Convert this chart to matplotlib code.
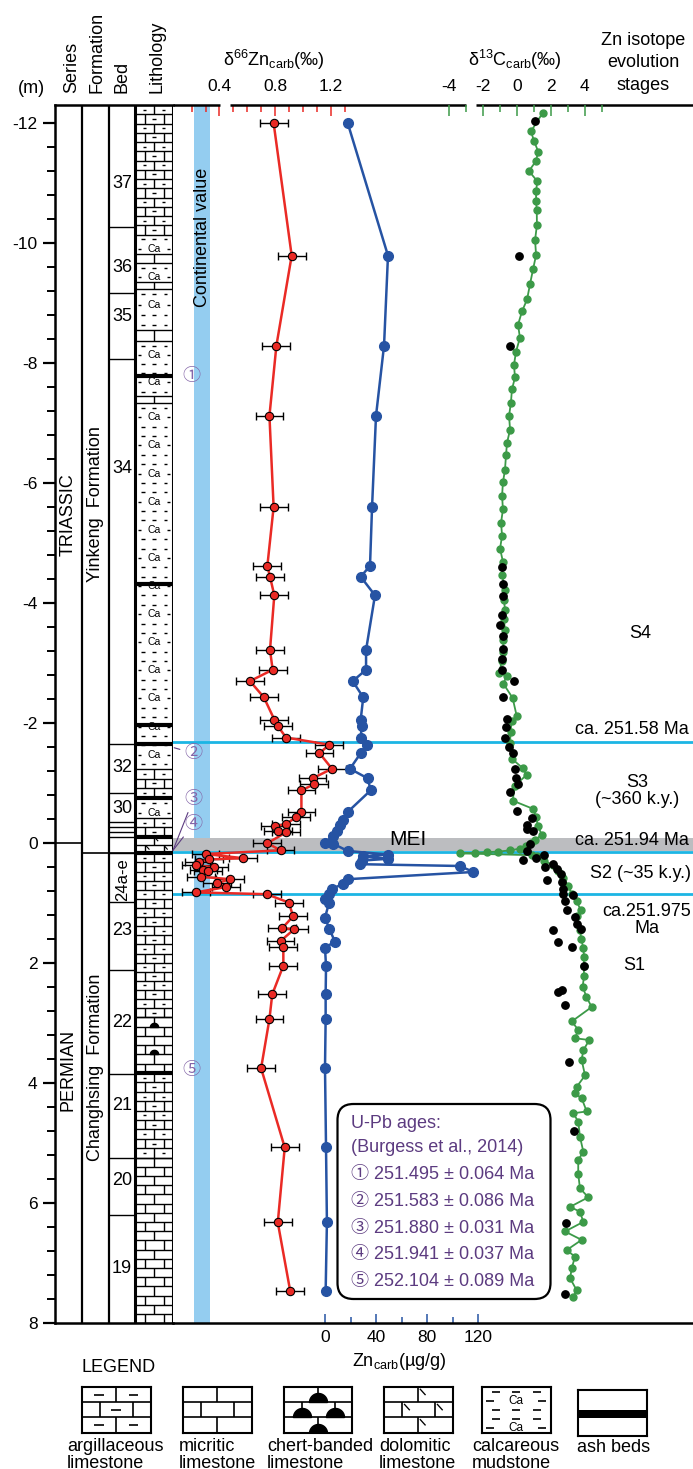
import numpy as np
import matplotlib.pyplot as plt
from matplotlib.patches import FancyBboxPatch
from matplotlib.path import Path
from matplotlib.ticker import MultipleLocator

plt.rcParams['font.family'] = ['Liberation Sans', 'Noto Sans CJK JP', 'DejaVu Sans']
plt.rcParams['axes.unicode_minus'] = False
plt.rcParams['mathtext.fontset'] = 'custom'
plt.rcParams['mathtext.rm'] = 'Liberation Sans'
plt.rcParams['mathtext.default'] = 'regular'

# ---------------- data (depth in m, negative = above the P/T boundary) ----------------
zn_depth = [-12.0, -9.79, -8.29, -7.12, -5.6, -4.62, -4.44, -4.13, -3.22, -2.89, -2.70, -2.43,
            -2.06, -1.95, -1.76, -1.64, -1.50, -1.24, -1.08, -0.98, -0.88, -0.52, -0.43, -0.32,
            -0.28, -0.21, -0.18, 0.0, 0.12, 0.18, 0.25, 0.27, 0.32, 0.37, 0.40, 0.44, 0.47, 0.56,
            0.60, 0.67, 0.73, 0.82, 0.85, 0.99, 1.22, 1.42, 1.43, 1.63, 1.73, 2.04, 2.52, 2.93,
            3.75, 5.07, 6.32, 7.47]
zn_d66 = [0.79, 0.92, 0.81, 0.76, 0.79, 0.745, 0.764, 0.795, 0.764, 0.783, 0.62, 0.72,
          0.795, 0.82, 0.88, 1.19, 1.12, 1.21, 1.07, 1.08, 0.99, 0.99, 0.95, 0.88,
          0.80, 0.82, 0.88, 0.745, 0.84, 0.30, 0.57, 0.325, 0.25, 0.23, 0.36, 0.285, 0.32, 0.27,
          0.476, 0.38, 0.45, 0.23, 0.74, 0.90, 0.93, 0.85, 0.94, 0.84, 0.86, 0.86, 0.78, 0.76,
          0.70, 0.87, 0.82, 0.91]
zn_err = 0.1

conc_depth = [-12.0, -9.79, -8.29, -7.12, -5.6, -4.62, -4.44, -4.13, -3.22, -2.89, -2.70, -2.43,
              -2.06, -1.95, -1.76, -1.64, -1.50, -1.24, -1.08, -0.88, -0.52, -0.39, -0.30, -0.21,
              -0.12, 0.0, 0.01, 0.13, 0.19, 0.22, 0.26, 0.29, 0.35, 0.38, 0.48, 0.60, 0.68, 0.76,
              0.84, 0.93, 1.0, 1.24, 1.43, 1.64, 1.74, 2.05, 2.52, 2.93, 3.75, 5.07, 6.32, 7.47]
conc_zn = [17.8, 49.4, 46.3, 40.0, 36.9, 35.3, 28.0, 39.2, 32.2, 32.2, 21.7, 30.0,
           28.0, 28.8, 28.0, 32.7, 28.0, 19.6, 33.5, 35.8, 17.8, 14.4, 12.0, 9.2,
           6.0, 0.0, 6.5, 17.8, 49.7, 30.0, 49.7, 28.8, 27.5, 105.9, 116.3, 17.8, 14.4, 5.2,
           3.4, 0.0, 3.1, 0.0, 3.4, 7.8, 0.0, 0.8, 0.5, 0.5, 0.0, 0.8, 1.5, 0.5]

c13_depth = [-12.17, -11.86, -11.70, -11.52, -11.36, -11.20, -11.03, -10.86, -10.70, -10.55,
             -10.30, -10.05, -9.80, -9.56, -9.31, -9.06, -8.86, -8.64, -8.42, -8.19,
             -7.97, -7.76, -7.56, -7.34, -7.12, -6.89, -6.67, -6.46, -6.22, -6.01,
             -5.79, -5.56, -5.34, -5.12, -4.91, -4.69, -4.47, -4.22, -4.06, -3.89,
             -3.73, -3.55, -3.38, -3.19, -3.03, -2.84, -2.78, -2.66, -2.42, -2.12,
             -2.04, -1.86, -1.67, -1.41, -1.25, -1.14, -0.96, -0.71, -0.57, -0.43,
             -0.29, -0.14, -0.06, 0.0, 0.05, 0.09, 0.12, 0.14, 0.15, 0.16,
             0.17, 0.20, 0.22, 0.30, 0.36, 0.47, 0.58, 0.72, 0.85, 0.97,
             1.11, 1.22, 1.44, 1.60, 1.75, 1.89, 2.05, 2.22, 2.39, 2.56,
             2.73, 2.97, 3.11, 3.25, 3.28, 3.45, 3.61, 3.87, 4.06, 4.17,
             4.25, 4.47, 4.50, 4.64, 4.89, 5.14, 5.28, 5.51, 5.75, 5.90,
             6.06, 6.14, 6.31, 6.47, 6.61, 6.78, 6.89, 7.08, 7.25, 7.45, 7.56]
c13 = [1.53, 0.84, 1.02, 1.27, 1.12, 0.72, 1.21, 1.14, 1.14, 1.18,
       1.19, 1.08, 1.14, 0.96, 0.78, 0.61, 0.31, 0.08, 0.19, -0.04,
       -0.16, -0.10, -0.28, -0.34, -0.45, -0.39, -0.57, -0.63, -0.69, -0.81,
       -0.86, -0.81, -0.92, -0.86, -0.98, -0.81, -0.86, -0.69, -0.75, -0.69,
       -0.75, -0.69, -0.79, -0.79, -0.88, -1.02, -0.59, -0.79, -0.24, 0.0,
       -0.29, -0.36, -0.39, -0.29, 0.35, 0.59, -0.10, -0.24, 0.98, 1.14,
       1.25, 1.47, 1.10, 0.85, 0.55, 0.20, -0.40, -1.08, -1.76, -2.45,
       -3.34, 0.90, 1.18, 1.60, 2.15, 2.45, 2.75, 3.04, 3.25, 3.53,
       3.76, 3.53, 3.72, 3.80, 3.92, 3.96, 3.95, 3.96, 3.88, 4.10,
       4.41, 3.24, 3.62, 3.43, 4.27, 3.92, 3.82, 4.02, 3.53, 3.43,
       3.82, 4.12, 3.33, 3.62, 3.72, 3.92, 3.62, 3.62, 3.72, 4.21,
       3.14, 3.72, 3.92, 2.84, 3.82, 2.94, 3.43, 3.24, 3.14, 3.53, 3.33]

c13b_depth = [-12.03, -9.79, -8.29, -4.60, -4.32, -4.12, -3.80, -3.63, -3.45, -3.24, -3.07,
              -2.89, -2.71, -2.44, -2.07, -1.93, -1.76, -1.61, -1.50, -1.24, -1.09, -0.99,
              -0.86, -0.53, -0.42, -0.31, -0.24, -0.20, 0.01, 0.13, 0.19, 0.25, 0.28, 0.35,
              0.40, 0.43, 0.51, 0.61, 0.65, 0.76, 0.84, 0.86, 0.96, 1.11, 1.23, 1.34, 1.43,
              1.44, 1.65, 1.73, 2.05, 2.45, 2.48, 2.69, 3.65, 4.80, 6.33, 7.52]
c13b = [1.08, 0.14, -0.40, -0.85, -0.80, -0.82, -0.88, -0.98, -0.78, -0.82, -0.88,
        -0.88, -0.16, -0.78, -0.55, -0.63, -0.69, -0.43, -0.24, -0.10, -0.04, 0.10,
        -0.39, 0.0, 0.88, 0.59, 0.59, 0.94, 0.79, 0.63, 1.61, 1.14, 0.39, 2.16,
        1.67, 2.35, 2.59, 1.80, 2.65, 2.70, 2.75, 3.29, 2.84, 2.94, 3.43, 3.53, 3.76,
        2.16, 2.45, 3.24, 3.96, 2.65, 2.45, 2.84, 3.10, 3.37, 2.88, 2.84]

stage_bounds = [-1.68, 0.145, 0.845]
mei_zone = (-0.08, 0.125)
continental = (0.22, 0.335)

bed_bounds = [-10.26, -9.16, -8.07, -1.66, -0.84, -0.36, -0.27, -0.19, -0.11, 0.17,
              0.98, 2.11, 3.85, 5.24, 6.19]
bed_names = ['37', '36', '35', '34', '32', '30', '24a-e', '23', '22', '21', '20', '19']
bed_mid = [-11.0, -9.6, -8.78, -6.25, -1.26, -0.57, 0.6, 1.46, 2.98, 4.37, 5.62, 7.09]

lith_top = [-12.3, -10.14, -9.82, -9.67, -9.35, -9.23, -8.55, -8.36, -7.45, -7.33, -1.24,
            -0.75, -0.42, -0.11, 0.17, 2.90, 3.83, 5.24]
lith_bot = [-10.14, -9.82, -9.67, -9.35, -9.23, -8.55, -8.36, -7.45, -7.33, -1.24, -0.75,
            -0.42, -0.11, 0.17, 2.90, 3.83, 5.24, 8.0]
lith_kind = ['argill', 'mud', 'micrite', 'mud', 'micrite', 'mud', 'micrite', 'mud', 'micrite',
             'mud', 'argill', 'mud', 'argill', 'dolo', 'argill', 'chert', 'argill', 'micrite']
ash_beds = [-7.78, -4.32, -1.97, -1.66, -0.75, -0.11, 0.17, 3.83]

ages = ['① 251.495 ± 0.064 Ma', '② 251.583 ± 0.086 Ma', '③ 251.880 ± 0.031 Ma',
        '④ 251.941 ± 0.037 Ma', '⑤ 252.104 ± 0.089 Ma']

# ---------------- styling ----------------
RED, BLUE, GREEN = '#ea2a25', '#2653a3', '#3c9a48'
CYAN, BAND, GREY = '#1cb5e4', '#94cdf0', '#bcbdc0'
PURPLE, PURPLE2 = '#5c3b80', '#8466a8'
FS = 13

W, H = 693, 1469
fig = plt.figure(figsize=(W / 100, H / 100), dpi=100)


def rect(x0, y0, x1, y1):
    return [x0 / W, 1 - y1 / H, (x1 - x0) / W, (y1 - y0) / H]


# ---------------- stratigraphic columns ----------------
ax_col = fig.add_axes(rect(55, 105, 173, 1323.3))
ax_col.set_xlim(55, 173)
ax_col.set_ylim(8, -12.3)
ax_col.spines['right'].set_visible(False)
for s in ['left', 'top', 'bottom']:
    ax_col.spines[s].set_linewidth(1.8)
ax_col.set_xticks([])
ax_col.yaxis.set_major_locator(MultipleLocator(2))
ax_col.yaxis.set_minor_locator(MultipleLocator(0.4))
ax_col.tick_params(axis='y', which='major', length=8.5, width=1.6, labelsize=12.5, pad=4)
ax_col.tick_params(axis='y', which='minor', length=5.5, width=1.4)
for x in [82, 109]:
    ax_col.axvline(x, color='k', lw=1.6)
for x in [135, 173]:
    ax_col.axvline(x, color='k', lw=2.2)
ax_col.hlines(0, 55, 82, color='k', lw=1.2)
ax_col.hlines(0.17, 82, 135, color='k', lw=1.2)
ax_col.hlines(bed_bounds, 109, 135, color='k', lw=1.0)
for name, d in zip(bed_names, bed_mid):
    if name == '24a-e':
        ax_col.text(123, d, name, rotation=90, ha='center', va='center', fontsize=12)
    else:
        ax_col.text(122, d, name, ha='center', va='center', fontsize=FS)
ax_col.text(68.5, -5.47, 'TRIASSIC', rotation=90, ha='center', va='center', fontsize=FS)
ax_col.text(68.5, 3.78, 'PERMIAN', rotation=90, ha='center', va='center', fontsize=FS)
ax_col.text(95.5, -5.65, 'Yinkeng  Formation', rotation=90, ha='center', va='center', fontsize=FS)
ax_col.text(95.5, 3.74, 'Changhsing  Formation', rotation=90, ha='center', va='center', fontsize=FS)

# ---------------- lithology ----------------
theta = np.linspace(0, np.pi, 25)
dome = Path(np.column_stack([np.r_[np.cos(theta), 1.0], np.r_[np.sin(theta), 0.0]]))


def dash(ax, xs, y, hw, lw):
    xs = np.asarray(xs, dtype=float)
    ax.hlines(np.full(len(xs), y), xs - hw, xs + hw, color='k', lw=lw)


def draw_unit(ax, top, bot, kind, step, hw=0.05, lw=1.0, ms=6, fs=7.5, dome_x=None, every=1):
    n = max(1, int(round((bot - top) / step)))
    e = np.linspace(top, bot, n + 1)
    if kind == 'mud':
        for i in range(n):
            y = (e[i] + e[i + 1]) / 2
            if i % 3 == 1:
                dash(ax, [0.12, 0.88], y, hw, lw)
                ax.text(0.5, y, 'Ca', ha='center', va='center', fontsize=fs)
            else:
                dash(ax, [0.2, 0.5, 0.8], y, hw, lw)
        return
    ax.hlines(e, 0, 1, color='k', lw=lw)
    for i in range(n):
        t, b = e[i], e[i + 1]
        seps = [0.5] if i % 2 == 0 else [0.27, 0.75]
        ax.vlines(seps, t, b, color='k', lw=lw)
        y = (t + b) / 2
        if kind == 'argill':
            dash(ax, [0.25, 0.75] if i % 2 == 0 else [0.5], y, hw, lw)
        elif kind == 'chert' and i % every == 0:
            xs = seps if dome_x is None else dome_x
            ax.plot(xs, [b] * len(xs), ls='none', marker=dome, ms=ms, color='k')
        elif kind == 'dolo':
            for s in seps:
                ax.plot([s + 0.03, s + 0.1], [t + (b - t) * 0.15, t + (b - t) * 0.5],
                        color='k', lw=lw * 0.8)


ax_lith = fig.add_axes(rect(135, 105, 173, 1323.3))
ax_lith.set_xlim(0, 1)
ax_lith.set_ylim(8, -12.3)
ax_lith.axis('off')
for t, b, k in zip(lith_top, lith_bot, lith_kind):
    draw_unit(ax_lith, t, b, k, 0.155, dome_x=[0.5], every=3)
ax_lith.hlines(ash_beds, 0, 1, color='k', lw=3)

# ---------------- data axes ----------------
pos = rect(173, 105, 693, 1323.3)
ax_r = fig.add_axes(pos)
ax_b = fig.add_axes(pos)
ax_g = fig.add_axes(pos)
for a in (ax_r, ax_b, ax_g):
    a.set_facecolor('none')
    a.set_ylim(8, -12.3)
    for s in a.spines.values():
        s.set_visible(False)
    a.tick_params(axis='y', left=False, right=False, labelleft=False, labelright=False)

ax_r.set_xlim(0.0662, 3.807)
ax_b.set_xlim(-119.22, 288.63)
ax_g.set_xlim(-20.218, 10.371)

# background bands
ax_r.axvspan(*continental, color=BAND, lw=0)
ax_r.axhspan(*mei_zone, color=GREY, lw=0)
for d in stage_bounds:
    ax_r.axhline(d, color=CYAN, lw=2)
ax_r.text(sum(continental) / 2, -10.1, 'Continental value', rotation=90,
          ha='center', va='center', fontsize=FS)

# delta66Zn
ax_r.errorbar(zn_d66, zn_depth, xerr=zn_err, fmt='none', ecolor='k', elinewidth=1,
              capsize=3, capthick=1)
ax_r.plot(zn_d66, zn_depth, '-', color=RED, lw=1.8)
ax_r.plot(zn_d66, zn_depth, 'o', mfc=RED, mec='k', mew=0.8, ms=6)
ax_r.xaxis.tick_top()
ax_r.set_xticks([0.4, 0.8, 1.2])
ax_r.set_xticks(np.round(np.arange(0.2, 1.31, 0.1), 2), minor=True)
ax_r.set_xticklabels(['0.4', '0.8', '1.2'])
ax_r.tick_params(axis='x', which='major', direction='in', length=7.7, width=1.1,
                 color=RED, labelsize=12.5, pad=8)
ax_r.tick_params(axis='x', which='minor', direction='in', length=4.8, width=1.1, color=RED)

# Zn concentration
ax_b.plot(conc_zn, conc_depth, '-o', color=BLUE, lw=1.8, ms=7)
ax_b.spines['bottom'].set_visible(True)
ax_b.spines['bottom'].set_linewidth(1.8)
ax_b.set_xticks([0, 40, 80, 120])
ax_b.set_xticks([20, 60, 100], minor=True)
ax_b.tick_params(axis='x', which='major', direction='in', length=6.5, width=1.1,
                 color=BLUE, labelsize=12.5, pad=5)
ax_b.tick_params(axis='x', which='minor', direction='in', length=4.3, width=1.1, color=BLUE)

# delta13C
ax_g.plot(c13, c13_depth, '-o', color=GREEN, lw=1.3, ms=5)
ax_g.plot(c13b, c13b_depth, 'o', color='k', ms=5.3, ls='none')
ax_g.xaxis.tick_top()
ax_g.set_xticks([-4, -2, 0, 2, 4])
ax_g.set_xticks([-3, -1, 1, 3, 5], minor=True)
ax_g.tick_params(axis='x', which='major', direction='in', length=8.2, width=1.1,
                 color=GREEN, labelsize=12.5, pad=8)
ax_g.tick_params(axis='x', which='minor', direction='in', length=5.3, width=1.1, color=GREEN)


def frac(a, v):
    return a.transAxes.inverted().transform(a.transData.transform((v, 0)))[0]


for a0, a1 in [(0, frac(ax_r, 0.405)), (frac(ax_r, 0.475), frac(ax_g, -2.99)),
               (frac(ax_g, -2.4), 1)]:
    ax_r.plot([a0, a1], [1, 1], transform=ax_r.transAxes, color='k', lw=1.8,
              clip_on=False, solid_capstyle='butt')

# U-Pb sample markers
circ = dict(color=PURPLE2, fontsize=13, ha='center', va='center')
ax_r.text(0.2, -7.78, '①', **circ)
ax_r.text(0.2, 3.78, '⑤', **circ)
for lab, dl, tgt in [('②', -1.5, (0.075, -1.59)), ('③', -0.72, (0.066, 0.12)),
                     ('④', -0.31, (0.066, 0.12))]:
    ax_r.annotate(lab, xy=tgt, xytext=(0.21, dl), **circ,
                  arrowprops=dict(arrowstyle='-', color=PURPLE, lw=0.8, shrinkA=1, shrinkB=0))

# ---------------- text overlay (pixel coordinates) ----------------
ov = fig.add_axes([0, 0, 1, 1])
ov.set_xlim(0, W)
ov.set_ylim(H, 0)
ov.axis('off')

ov.text(31, 88, '(m)', ha='center', va='center', fontsize=FS)
for x, s in [(72, 'Series'), (97, 'Formation'), (122, 'Bed'), (157, 'Lithology')]:
    ov.text(x, 93, s, rotation=90, ha='center', va='bottom', fontsize=FS)
ov.text(274, 60, 'δ$^{66}$Zn$_{carb}$(‰)', ha='center', va='center', fontsize=FS)
ov.text(515, 60, 'δ$^{13}$C$_{carb}$(‰)', ha='center', va='center', fontsize=FS)
for y, s in [(40, 'Zn isotope'), (62, 'evolution'), (85, 'stages')]:
    ov.text(643, y, s, ha='center', va='center', fontsize=FS)

ov.text(640, 633, 'S4', ha='center', va='center', fontsize=FS)
ov.text(689, 729, 'ca. 251.58 Ma', ha='right', va='center', fontsize=FS)
ov.text(637, 782, 'S3', ha='center', va='center', fontsize=FS)
ov.text(637, 799, '(~360 k.y.)', ha='center', va='center', fontsize=FS)
ov.text(689, 840, 'ca. 251.94 Ma', ha='right', va='center', fontsize=FS)
ov.text(691, 873, 'S2 (~35 k.y.)', ha='right', va='center', fontsize=FS)
ov.text(691, 911, 'ca.251.975', ha='right', va='center', fontsize=FS)
ov.text(647, 928, 'Ma', ha='center', va='center', fontsize=FS)
ov.text(634, 965, 'S1', ha='center', va='center', fontsize=FS)
ov.text(408, 839, 'MEI', ha='center', va='center', fontsize=15)

ov.text(399, 1362, 'Zn$_{carb}$(µg/g)', ha='center', va='center', fontsize=FS)

# U-Pb box
ov.add_patch(FancyBboxPatch((337.5, 1104), 213, 195, boxstyle='round,pad=0,rounding_size=16',
                            fc='white', ec='k', lw=1.6))
ov.text(351, 1124, 'U-Pb ages:', ha='left', va='center', fontsize=FS, color=PURPLE)
ov.text(351, 1147.5, '(Burgess et al., 2014)', ha='left', va='center', fontsize=FS, color=PURPLE)
for i, s in enumerate(ages):
    ov.text(351, 1174.7 + i * 26.75, s, ha='left', va='center', fontsize=FS, color=PURPLE)

# ---------------- legend ----------------
ov.text(119, 1367, 'LEGEND', ha='center', va='center', fontsize=FS)
legend_kind = ['argill', 'micrite', 'chert', 'dolo', 'mud', 'ash']
legend_text = [['argillaceous', 'limestone'], ['micritic', 'limestone'],
               ['chert-banded', 'limestone'], ['dolomitic', 'limestone'],
               ['calcareous', 'mudstone'], ['ash beds']]
box_left = [82, 183, 284, 384, 482, 578]
text_left = [67, 179, 267, 379, 472, 577]
for kind, lines, bx, tx in zip(legend_kind, legend_text, box_left, text_left):
    y0 = 1390 if kind == 'ash' else 1387
    lg = fig.add_axes(rect(bx, y0, bx + 68.5, y0 + 45.5))
    lg.set_xlim(0, 1)
    lg.set_ylim(3, 0)
    lg.set_xticks([])
    lg.set_yticks([])
    for s in lg.spines.values():
        s.set_linewidth(1.5)
    if kind == 'ash':
        lg.axhspan(1.32, 1.85, color='k', lw=0)
    elif kind == 'mud':
        draw_unit(lg, 0, 3, 'mud', 0.6, hw=0.06, lw=1.2, fs=8.5)
    else:
        draw_unit(lg, 0, 3, kind, 1, hw=0.07, lw=1.2, ms=13)
    if len(lines) == 1:
        ov.text(tx, 1448, lines[0], ha='left', va='center', fontsize=FS)
    else:
        ov.text(tx, 1446.7, lines[0], ha='left', va='center', fontsize=FS)
        ov.text(tx, 1463.3, lines[1], ha='left', va='center', fontsize=FS)

fig.savefig('out.png', dpi=100)
